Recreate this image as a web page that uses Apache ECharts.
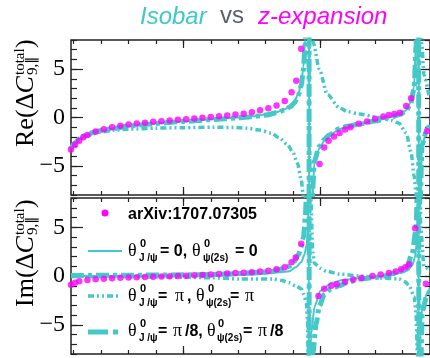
<!DOCTYPE html>
<html>
<head>
<meta charset="utf-8">
<script src="https://cdn.jsdelivr.net/npm/echarts@6/dist/echarts.min.js"></script>
<style>
  html, body { margin: 0; padding: 0; background: #fff; }
  #chart { width: 430px; height: 358px; }
</style>
</head>
<body>
<div id="chart"></div>
<script>
  // tick values
  var xTicks = [1, 2, 3, 4, 5, 6, 7, 8, 9, 10, 11, 12, 13];
  var xMajor = [5, 10];
  var yTicks = [-8, -7, -6, -5, -4, -3, -2, -1, 0, 1, 2, 3, 4, 5, 6, 7, 8];
  var yMajor = [-5, 0, 5];

  // Re panel, [q2, value]
  var reZexp = [[0.9,-3.3],[1.05,-2.8],[1.2,-2.4],[1.35,-2.05],[1.5,-1.8],[1.8,-1.45],[2.1,-1.2],[2.4,-1.0],[2.7,-0.85],
    [3.0,-0.72],[3.3,-0.62],[3.6,-0.53],[3.9,-0.45],[4.2,-0.38],[4.5,-0.3],[4.8,-0.24],[5.1,-0.17],[5.4,-0.1],[5.7,-0.03],
    [6.0,0.05],[6.3,0.13],[6.6,0.2],[6.9,0.3],[7.2,0.4],[7.5,0.55],[7.8,0.75],[8.1,0.95],[8.4,1.25],[8.7,1.7],[8.95,2.6],
    [9.12,3.8],[9.3,7.1],[9.97,-4.8],[10.14,-3.1],[10.3,-2.4],[10.5,-1.95],[10.7,-1.6],[10.9,-1.25],[11.1,-1.0],[11.4,-0.65],
    [11.7,-0.4],[12.0,-0.12],[12.3,0.1],[12.5,0.25],[12.7,0.35],[12.9,0.5],[13.13,1.2],[13.31,2.0],[13.89,-1.4]];
  var reIso0 = [[0.9,-3.2],[1.05,-2.6],[1.2,-2.2],[1.4,-1.85],[1.7,-1.55],[2.0,-1.35],[2.5,-1.1],[3.0,-0.9],[3.5,-0.75],
    [4.0,-0.6],[5.0,-0.4],[6.0,-0.2],[6.5,-0.1],[7.0,0.0],[7.5,0.12],[8.0,0.3],[8.4,0.55],[8.7,0.85],[8.9,1.2],[9.05,1.65],
    [9.2,2.5],[9.3,3.5],[9.38,5.2],[9.44,8],[9.5,14],[9.55,28],[9.586,60],[9.594,-60],[9.63,-25],[9.7,-9],[9.78,-4.7],
    [9.96,-3.2],[10.15,-2.4],[10.32,-1.9],[10.69,-1.2],[11.0,-0.95],[11.42,-0.7],[12.0,-0.35],[12.5,0.0],[12.9,0.35],
    [13.13,0.75],[13.3,1.6],[13.42,3.2],[13.49,7.8],[13.54,16],[13.586,60],[13.594,-60],[13.64,-10],[13.71,-2.9],[13.89,-1.2],[14.0,-0.9]];
  var reIsoPi8 = [[0.9,-3.2],[1.05,-2.6],[1.2,-2.2],[1.4,-1.85],[1.7,-1.55],[2.0,-1.35],[2.5,-1.1],[3.0,-0.9],[3.5,-0.75],
    [4.0,-0.62],[5.0,-0.42],[6.0,-0.22],[6.5,-0.13],[7.0,-0.03],[7.5,0.08],[8.0,0.25],[8.4,0.48],[8.7,0.78],[8.9,1.1],[9.05,1.5],
    [9.2,2.3],[9.3,3.3],[9.38,4.9],[9.44,7.5],[9.5,13],[9.55,26],[9.584,60],[9.592,-60],[9.63,-22],[9.7,-8.5],[9.78,-4.5],
    [9.96,-3.0],[10.15,-2.25],[10.32,-1.8],[10.69,-1.15],[11.0,-0.9],[11.42,-0.68],[12.0,-0.35],[12.5,-0.03],[12.9,0.3],
    [13.13,0.68],[13.3,1.5],[13.42,3.0],[13.49,7.3],[13.54,15],[13.584,60],[13.592,-60],[13.64,-9],[13.71,-2.8],[13.89,-1.15],[14.0,-0.85]];
  var reIsoPi = [[0.9,-3.2],[1.05,-2.7],[1.2,-2.3],[1.4,-2.0],[1.7,-1.7],[2.0,-1.5],[2.5,-1.3],[3.0,-1.2],[4.0,-1.1],
    [5.0,-1.05],[6.1,-1.0],[6.8,-1.03],[7.3,-1.1],[7.8,-1.3],[8.2,-1.6],[8.5,-2.1],[8.8,-2.8],[9.0,-3.6],[9.16,-4.7],
    [9.3,-6.4],[9.38,-8.2],[9.47,-14],[9.54,-30],[9.586,-60],[9.594,60],[9.64,18],[9.74,7.7],[9.96,5.0],[10.25,2.4],
    [10.69,1.0],[11.0,0.6],[11.42,0.35],[12.14,0.0],[12.6,-0.3],[12.87,-0.6],[13.13,-1.6],[13.31,-3.6],[13.42,-6.0],
    [13.49,-7.8],[13.54,-16],[13.586,-60],[13.594,60],[13.65,12],[13.7,7.7],[13.78,4.4],[13.96,2.3]];

  // Im panel, [q2, value]
  var imZexp = [[0.9,-0.9],[1.05,-0.7],[1.2,-0.55],[1.5,-0.42],[1.8,-0.33],[2.1,-0.27],[2.4,-0.22],[2.7,-0.18],[3.0,-0.15],
    [3.3,-0.12],[3.6,-0.1],[3.9,-0.08],[4.2,-0.05],[4.5,-0.03],[4.8,0.0],[5.1,0.03],[5.4,0.07],[5.7,0.1],[6.0,0.15],[6.3,0.2],
    [6.6,0.25],[6.9,0.3],[7.2,0.33],[7.5,0.38],[7.8,0.45],[8.1,0.55],[8.4,0.68],[8.7,0.9],[8.95,1.4],[9.1,1.9],[9.3,3.3],
    [9.93,-2.05],[10.14,-1.3],[10.4,-1.0],[10.6,-0.85],[10.9,-0.6],[11.2,-0.35],[11.5,-0.2],[11.9,0.0],[12.2,0.15],[12.5,0.3],
    [12.75,0.45],[12.95,0.7],[13.1,0.9],[13.24,1.2],[13.46,4.9],[13.85,-0.8]];
  var imIso0 = [[0.9,0.0],[3,0.0],[5,0.02],[6,0.05],[7,0.1],[7.5,0.15],[8,0.22],[8.5,0.38],[8.87,0.5],[9.1,0.9],[9.3,1.4],
    [9.42,2.2],[9.5,3.2],[9.55,5],[9.58,9],[9.59,-60],[9.6,-15],[9.66,-6],[9.79,-3.1],[10.0,-1.5],[10.43,-0.7],[10.8,-0.4],
    [11.5,-0.2],[12,-0.1],[12.5,0.05],[13,0.35],[13.2,0.6],[13.35,1.1],[13.45,1.9],[13.52,3.4],[13.56,6],[13.585,12],
    [13.59,-60],[13.6,-15],[13.65,-6],[13.72,-3.1],[13.89,-1.8],[14,-1.2]];
  var imIsoPi8 = [[0.9,0.05],[3,0.08],[5,0.12],[6,0.15],[7,0.25],[7.5,0.33],[8,0.42],[8.25,0.45],[8.5,0.65],[8.87,1.0],
    [9.05,1.5],[9.2,2.2],[9.3,3.0],[9.38,3.9],[9.45,6],[9.5,9],[9.55,20],[9.585,60],[9.595,-60],[9.64,-20],[9.72,-8],
    [9.85,-4.8],[9.96,-3.1],[10.14,-1.9],[10.4,-1.3],[10.69,-1.0],[11.0,-0.65],[11.42,-0.3],[12.14,-0.1],[12.76,0.3],
    [13.13,0.7],[13.35,2.3],[13.49,4.8],[13.54,9],[13.57,20],[13.585,60],[13.595,-60],[13.64,-12],[13.72,-3.6],[13.89,-2.0],[14,-1.5]];
  var imIsoPi = [[0.9,-0.05],[3,-0.08],[5,-0.12],[6,-0.18],[7.05,-0.3],[8.25,-0.3],[8.6,-0.45],[8.87,-0.7],[9.1,-1.0],
    [9.3,-1.3],[9.4,-1.9],[9.49,-2.8],[9.53,-4.5],[9.56,-10],[9.585,-60],[9.595,60],[9.65,8],[9.72,2.5],[9.78,1.3],
    [10.0,0.8],[10.22,0.5],[10.69,0.2],[11.42,0.0],[12.14,-0.2],[12.87,-0.3],[13.1,-0.6],[13.24,-1.0],[13.42,-2.1],
    [13.49,-3.8],[13.54,-8],[13.585,-60],[13.595,60],[13.66,5],[13.78,1.0],[14,0.5]];

  var CYAN = '#45c8c8';
  var MAG = '#ff00ff';
  var INK = '#222';
  var SERIF = '"Liberation Serif", "DejaVu Serif", serif';
  var SANS = '"Liberation Sans", Arial, sans-serif';

  var solidStyle = {color: CYAN, width: 2};
  var dddStyle = {color: CYAN, width: 3.5, type: [6, 3, 2, 3, 2, 3]};
  var thickStyle = {color: CYAN, width: 5, type: [13, 4, 4, 4]};

  function xAx(grid, pos, ticks, len) {
    return {
      type: 'value', gridIndex: grid, position: pos, min: 0.9, max: 14,
      axisLine: {show: false, onZero: false}, splitLine: {show: false}, axisLabel: {show: false},
      axisTick: {inside: true, length: len, customValues: ticks, lineStyle: {color: INK, width: 1.2}}
    };
  }

  function yAx(grid, pos, ticks, len, labels) {
    return {
      type: 'value', gridIndex: grid, position: pos, min: -8, max: 8,
      axisLine: {show: false, onZero: false}, splitLine: {show: false},
      axisTick: {inside: true, length: len, customValues: ticks, lineStyle: {color: INK, width: 1.2}},
      axisLabel: labels ? {
        show: true, customValues: yMajor, margin: 6, fontSize: 24, fontFamily: SERIF, color: '#000',
        formatter: function (v) { return String(v).replace('-', '\u2212'); }
      } : {show: false}
    };
  }

  function curve(data, grid, style) {
    return {
      type: 'line', xAxisIndex: grid * 4, yAxisIndex: grid * 4, data: data,
      symbol: 'none', smooth: 0.25, smoothMonotone: 'x', lineStyle: style, clip: true
    };
  }

  function dots(data, grid) {
    return {
      type: 'scatter', xAxisIndex: grid * 4, yAxisIndex: grid * 4, data: data,
      symbolSize: 6.5, itemStyle: {color: MAG}, clip: true, z: 5
    };
  }

  // text placed by its baseline
  function txt(s, x, base, size, font, color) {
    return {
      type: 'text', x: x, y: base - 0.34 * size,
      style: {
        text: s, font: font.replace('%', size + 'px'), fill: color || '#000',
        align: 'left', verticalAlign: 'middle', textAlign: 'left', textVerticalAlign: 'middle'
      }
    };
  }

  var B = 'bold % ' + SANS;
  var SY = '% ' + SERIF;

  // y axis titles, rotated
  function yTitle(first, y) {
    return {
      type: 'group', x: 35, y: y, rotation: Math.PI / 2,
      children: [
        txt(first, 0, 0, 26, SY),
        txt('C', 53.5, 0, 26, 'italic ' + SY),
        txt('total', 72, -10, 15, SY),
        txt('9,\u2225', 72, 3, 15, SY),
        txt(')', 99, 0, 26, SY)
      ]
    };
  }

  var graphics = [
    // title
    txt('Isobar', 140, 25, 24, 'italic % ' + SANS, '#3ec8c8'),
    txt('vs', 220, 25, 24, '% ' + SANS, '#5a5d70'),
    txt('z-expansion', 258, 25, 24, 'italic % ' + SANS, MAG),
    yTitle('Re(\u0394', 147),
    yTitle('Im(\u0394', 307),
    // legend
    {type: 'circle', shape: {cx: 105, cy: 213, r: 3.5}, style: {fill: MAG}},
    txt('arXiv:1707.07305', 128, 220, 16, B),
    {type: 'line', shape: {x1: 88, y1: 251, x2: 122, y2: 251}, style: {stroke: CYAN, lineWidth: 2}},
    txt('\u03b8', 128, 257, 18, SY), txt('0', 140, 248, 11, B), txt('J /\u03c8', 139, 262, 10, B),
    txt('= 0,', 160, 257, 16, B),
    txt('\u03b8', 192, 257, 18, SY), txt('0', 204, 248, 11, B), txt('\u03c8(2s)', 203, 262, 10, B),
    txt('= 0', 235, 257, 16, B),
    {type: 'line', shape: {x1: 88, y1: 296, x2: 120, y2: 296}, style: {stroke: CYAN, lineWidth: 3.5, lineDash: [6, 3, 2, 3, 2, 3]}},
    txt('\u03b8', 128, 302, 18, SY), txt('0', 140, 293, 11, B), txt('J /\u03c8', 139, 307, 10, B),
    txt('=', 158, 302, 16, B), txt('\u03c0', 175, 302, 18, SY), txt(',', 187, 302, 16, B),
    txt('\u03b8', 196, 302, 18, SY), txt('0', 208, 293, 11, B), txt('\u03c8(2s)', 206, 307, 10, B),
    txt('=', 230, 302, 16, B), txt('\u03c0', 245, 302, 18, SY),
    {type: 'line', shape: {x1: 88, y1: 332, x2: 122, y2: 332}, style: {stroke: CYAN, lineWidth: 5, lineDash: [20, 5, 5, 5]}},
    txt('\u03b8', 128, 337, 18, SY), txt('0', 140, 328, 11, B), txt('J /\u03c8', 139, 342, 10, B),
    txt('=', 158, 337, 16, B), txt('\u03c0', 173, 337, 18, SY), txt('/8,', 185, 337, 16, B),
    txt('\u03b8', 207, 337, 18, SY), txt('0', 218, 328, 11, B), txt('\u03c8(2s)', 217, 342, 10, B),
    txt('=', 243, 337, 16, B), txt('\u03c0', 258, 337, 18, SY), txt('/8', 270, 337, 16, B)
  ];

  var chart = echarts.init(document.getElementById('chart'));
  chart.setOption({
    animation: false,
    backgroundColor: '#fff',
    grid: [
      {left: 71, top: 40, width: 360, height: 155, show: true, borderColor: INK, borderWidth: 1.5, backgroundColor: 'transparent'},
      {left: 71, top: 198, width: 360, height: 156, show: true, borderColor: INK, borderWidth: 1.5, backgroundColor: 'transparent'}
    ],
    xAxis: [
      xAx(0, 'bottom', xTicks, 4), xAx(0, 'bottom', xMajor, 8), xAx(0, 'top', xTicks, 4), xAx(0, 'top', xMajor, 8),
      xAx(1, 'bottom', xTicks, 4), xAx(1, 'bottom', xMajor, 8), xAx(1, 'top', xTicks, 4), xAx(1, 'top', xMajor, 8)
    ],
    yAxis: [
      yAx(0, 'left', yTicks, 6), yAx(0, 'left', yMajor, 12, true), yAx(0, 'right', yTicks, 5), yAx(0, 'right', yMajor, 10),
      yAx(1, 'left', yTicks, 6), yAx(1, 'left', yMajor, 12, true), yAx(1, 'right', yTicks, 5), yAx(1, 'right', yMajor, 10)
    ],
    series: [
      curve(reIsoPi, 0, dddStyle), curve(reIsoPi8, 0, thickStyle), curve(reIso0, 0, solidStyle), dots(reZexp, 0),
      curve(imIsoPi, 1, dddStyle), curve(imIsoPi8, 1, thickStyle), curve(imIso0, 1, solidStyle), dots(imZexp, 1)
    ],
    graphic: graphics
  });
</script>
</body>
</html>
